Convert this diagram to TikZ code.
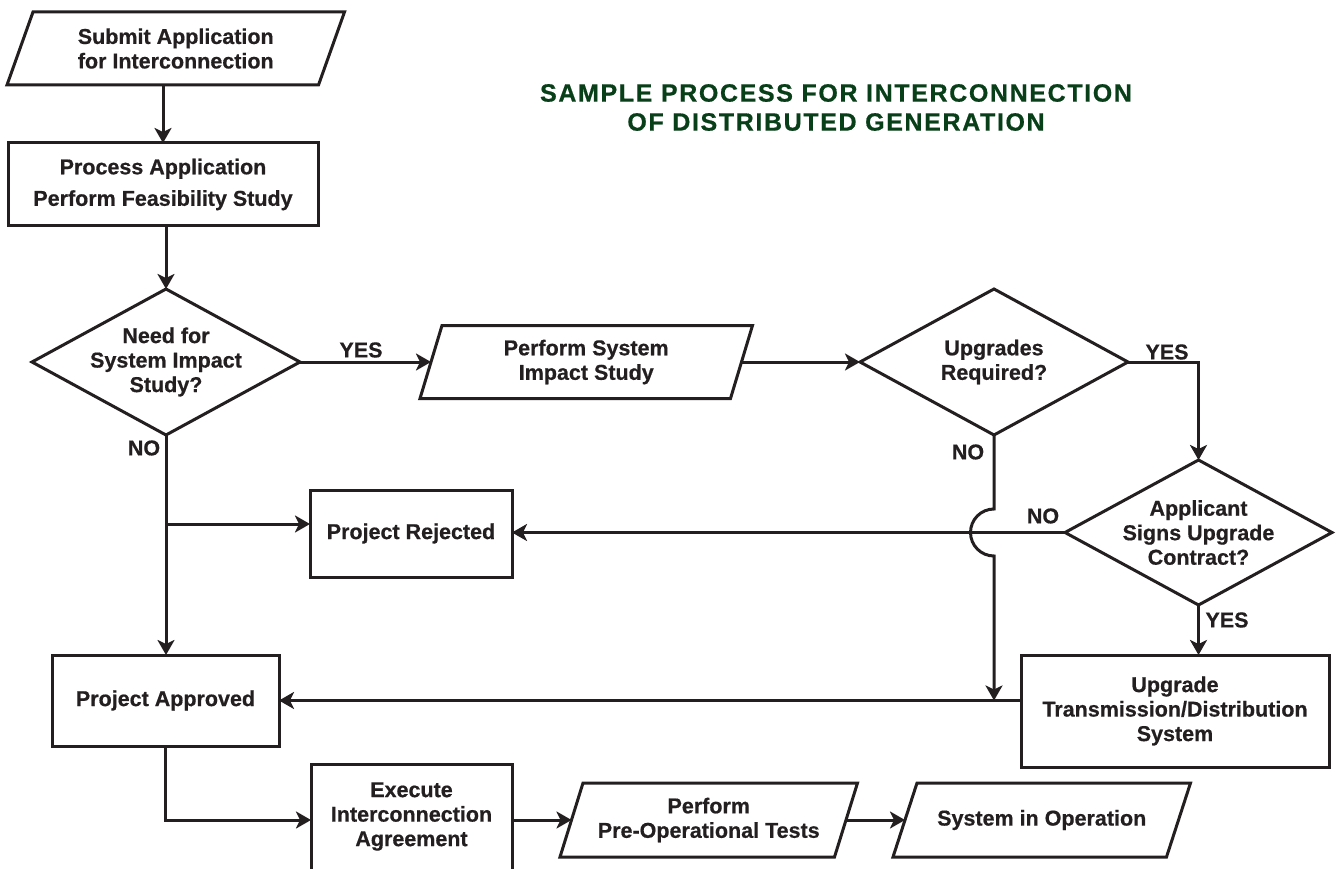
\documentclass[tikz,border=0pt]{standalone}
\usepackage{fontspec}
\setmainfont{Liberation Sans}[BoldFeatures={FakeBold=0.6}]
\usetikzlibrary{shapes.geometric,arrows.meta,calc}
\definecolor{titlegreen}{RGB}{8,62,24}
\definecolor{ink}{RGB}{35,31,32}
\begin{document}
\begin{tikzpicture}[x=1pt,y=-1pt,
  line width=3pt, line join=miter, draw=ink,
  every node/.style={font=\fontsize{21.5}{24.5}\selectfont\bfseries, text=ink, align=center, inner sep=0pt, outer sep=0pt},
  box/.style={draw, rectangle},
  dia/.style={draw, diamond},
  ptext/.style={rectangle},
  lbl/.style={font=\fontsize{21.5}{24}\selectfont\bfseries},
  ttl/.style={font=\fontsize{25}{30}\selectfont\bfseries\addfontfeatures{LetterSpace=6.5}, text=titlegreen},
  arr/.style={-{Stealth[length=15pt,width=17pt,inset=4pt]}}
]
\useasboundingbox (0,0) rectangle (1336,869);

% title
\node[ttl] (t1) at (836,93) {SAMPLE PROCESS FOR INTERCONNECTION};
\node[ttl] (t2) at (836,122) {OF DISTRIBUTED GENERATION};

% submit (parallelogram)
\node[ptext, minimum width=311.5, minimum height=73] (sub) at (175.75,48.5) {Submit Application\\for Interconnection};
\draw ($(sub.north west)+(13,0)$) -- ($(sub.north east)+(13,0)$) -- ($(sub.south east)+(-13,0)$) -- ($(sub.south west)+(-13,0)$) -- cycle;

% process
\node[box, minimum width=310, minimum height=83] (proc) at (163,184.5) {Process Application\\[7pt]Perform Feasibility Study};

% decision 1
\node[dia, minimum width=268, minimum height=146] (d1) at (166,362) {};
\node (d1t) at (d1.center) {Need for\\System Impact\\Study?};

% perform system impact study
\node[ptext, minimum width=310.5, minimum height=73] (psi) at (586.25,362) {Perform System\\Impact Study};
\draw ($(psi.north west)+(11,0)$) -- ($(psi.north east)+(11,0)$) -- ($(psi.south east)+(-11,0)$) -- ($(psi.south west)+(-11,0)$) -- cycle;

% decision 2
\node[dia, minimum width=268, minimum height=146] (d2) at (994,362) {};
\node (d2t) at (d2.center) {Upgrades\\Required?};

% decision 3
\node[dia, minimum width=267, minimum height=145] (d3) at (1198.5,532.5) {};
\node (d3t) at (d3.center) {Applicant\\Signs Upgrade\\Contract?};

% project rejected
\node[box, minimum width=202, minimum height=87] (pr) at (411,533.5) {Project Rejected};

% project approved
\node[box, minimum width=227, minimum height=91] (pa) at (165.5,700.5) {Project Approved};

% upgrade
\node[box, minimum width=308, minimum height=112] (ug) at (1175,711) {Upgrade\\Transmission/Distribution\\System};

% execute (cut by the page bottom)
\node[ptext, minimum width=201, minimum height=105] (ex) at (411.5,816.5) {Execute\\Interconnection\\Agreement};
\draw (ex.south west) -- (ex.north west) -- (ex.north east) -- (ex.south east);

% pre-operational tests
\node[ptext, minimum width=274.5, minimum height=74] (pre) at (708.75,820) {Perform\\Pre-Operational Tests};
\draw ($(pre.north west)+(11.5,0)$) -- ($(pre.north east)+(11.5,0)$) -- ($(pre.south east)+(-11.5,0)$) -- ($(pre.south west)+(-11.5,0)$) -- cycle;

% system in operation
\node[ptext, minimum width=273.5, minimum height=74] (sio) at (1041.75,820) {System in Operation};
\draw ($(sio.north west)+(12,0)$) -- ($(sio.north east)+(12,0)$) -- ($(sio.south east)+(-12,0)$) -- ($(sio.south west)+(-12,0)$) -- cycle;

% connectors
\draw[arr] (proc.north |- sub.south) -- (proc.north);
\draw[arr] (d1.north |- proc.south) -- (d1.north);
\draw[arr] (d1.east) -- (psi.west);
\draw[arr] (psi.east) -- (d2.west);
\draw[arr] (d2.east) -- (d2.east -| d3.north) -- (d3.north);
\draw[arr] (d1.south) -- (d1.south |- pa.north);
\coordinate (br) at (166,524);
\draw[arr] (br) -- (br -| pr.west);
\draw[arr] (d3.west) -- (d3.west -| pr.east);
\draw[arr] (d3.south) -- (d3.south |- ug.north);
\coordinate (jmp) at ($(d2.south |- d3.west)+(0,-23.5)$);
\draw[arr] (d2.south) -- (jmp) arc[start angle=270, end angle=90, radius=23.5] -- (d2.south |- pa.east);
\draw[arr] (ug.west |- pa.east) -- (pa.east);
\draw[arr] (pa.south) -- (pa.south |- pre.west) -- (ex.west |- pre.west);
\draw[arr] (ex.east |- pre.west) -- (pre.west);
\draw[arr] (pre.east) -- (sio.west);

% labels
\node[lbl] (yes1) at (361,350) {YES};
\node[lbl] (no1) at (144,448) {NO};
\node[lbl] (yes2) at (1167,352) {YES};
\node[lbl] (no2) at (968,452) {NO};
\node[lbl] (no3) at (1043,516) {NO};
\node[lbl] (yes3) at (1227,620) {YES};
\end{tikzpicture}
\end{document}
